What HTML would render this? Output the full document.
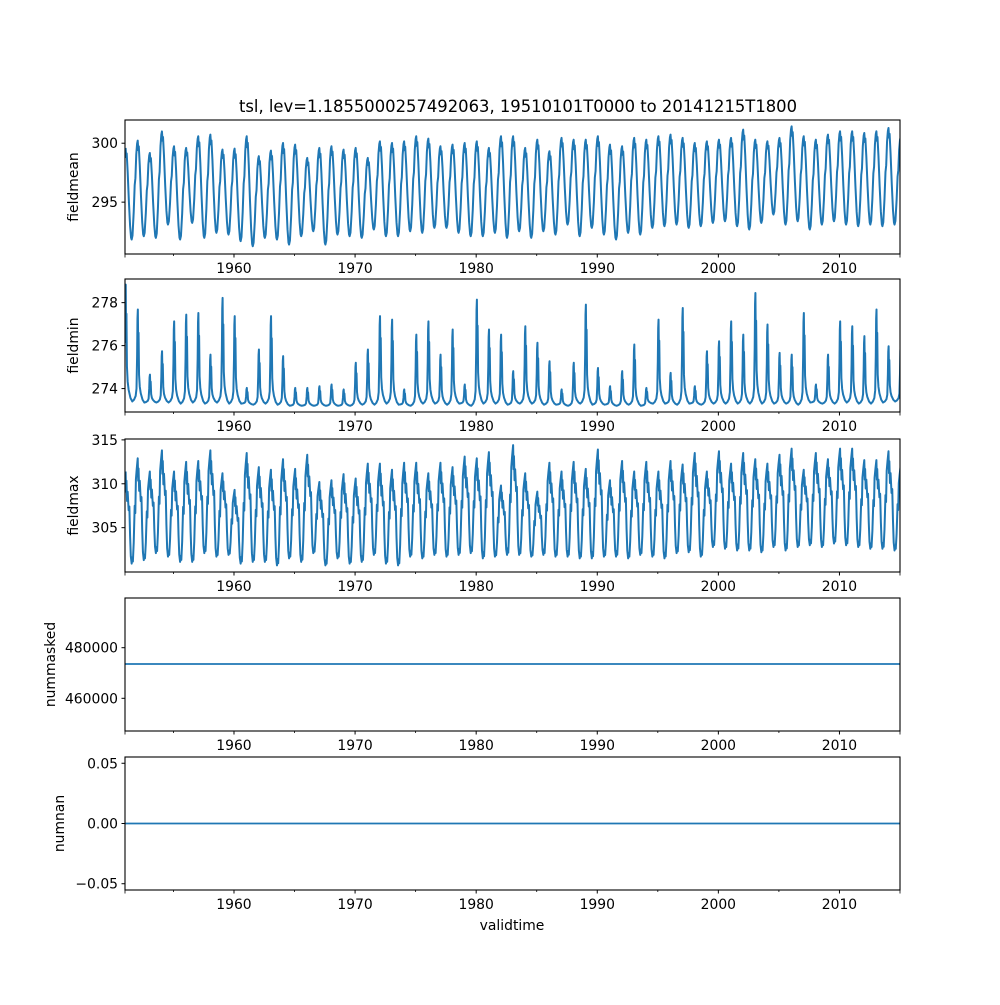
<!DOCTYPE html>
<html><head><meta charset="utf-8">
<style>
html,body{margin:0;padding:0;background:#fff;}
svg text{font-family:"DejaVu Sans","Liberation Sans",sans-serif;fill:#000;}
</style></head>
<body>
<svg id="chart" width="1000" height="1000" viewBox="0 0 1000 1000" xmlns="http://www.w3.org/2000/svg">
<rect width="1000" height="1000" fill="#fff"/>
<text x="518" y="112" font-size="16.4" text-anchor="middle">tsl, lev=1.1855000257492063, 19510101T0000 to 20141215T1800</text>
<text x="512" y="930" font-size="13.9" text-anchor="middle">validtime</text>
<g id="panels"></g>
</svg>
<script>
// ---- data (one value per year 1951..2015) ----
const meanPeaks = [299.6,300.22,299.17,301.0,299.74,299.6,300.59,300.73,299.46,299.54,300.59,298.9,299.37,300.02,299.88,298.75,299.6,299.74,299.46,299.6,298.75,300.16,300.02,300.16,300.59,300.39,299.74,299.88,300.02,300.16,299.6,300.59,
300.59,299.6,300.3,299.32,300.45,300.3,300.3,300.59,299.88,299.74,300.45,300.3,300.59,300.73,300.45,300.02,300.16,300.3,300.45,301.15,300.3,300.16,300.45,301.43,300.59,300.3,300.73,301.01,301.01,300.87,301.01,301.29,300.5];
const meanTroughs = [291.83,292.11,291.97,293.1,291.83,293.24,291.97,292.4,292.25,291.69,291.26,291.97,291.83,291.4,292.11,292.53,291.4,292.25,292.11,291.97,292.68,292.11,292.11,292.53,292.4,292.82,292.82,292.4,292.11,292.11,292.4,291.97,
292.53,291.97,292.53,292.25,293.1,292.11,292.82,292.25,291.83,292.4,292.25,292.82,292.96,293.1,292.82,292.96,293.24,293.38,292.96,292.68,293.24,293.95,293.1,293.38,292.68,293.1,293.38,293.1,292.96,293.1,292.96,293.1,293.0];
const minPeaks = [278.84,277.68,274.65,275.74,277.13,277.44,277.52,275.58,278.22,277.37,274.03,275.82,277.37,275.51,274.03,274.03,274.11,274.19,273.96,275.2,275.82,277.37,277.21,273.96,276.51,277.13,275.58,276.75,274.19,278.14,276.75,276.51,
274.81,276.9,276.13,275.27,273.96,275.2,277.91,274.96,274.11,274.81,276.05,274.03,277.21,274.73,277.75,274.11,275.74,276.2,277.13,276.51,278.45,276.98,275.66,275.58,277.52,274.19,275.58,277.13,276.9,276.44,277.68,275.97,276.0];
const minTroughs = [273.4,273.35,273.35,273.35,273.3,273.35,273.3,273.35,273.3,273.3,273.25,273.3,273.25,273.2,273.2,273.2,273.2,273.2,273.2,273.25,273.25,273.3,273.25,273.2,273.3,273.3,273.25,273.3,273.2,273.3,273.3,273.25,
273.3,273.3,273.25,273.25,273.2,273.3,273.25,273.25,273.2,273.25,273.2,273.3,273.3,273.25,273.3,273.25,273.3,273.3,273.3,273.3,273.3,273.3,273.3,273.25,273.35,273.3,273.3,273.35,273.3,273.3,273.35,273.4,273.4];
const maxPeaks = [311.4,312.9,311.4,313.8,311.4,312.5,312.6,313.8,311.2,309.3,313.5,311.9,311.6,312.8,311.7,313.3,310.2,310.4,311.1,310.6,312.3,312.3,311.6,312.4,312.4,311.2,312.4,311.9,313.1,312.9,313.6,309.8,
314.4,311.2,309.1,312.4,311.4,312.5,311.7,313.9,310.4,312.6,311.4,312.5,311.4,312.6,312.2,313.5,311.4,313.7,312.3,313.5,312.8,312.3,313.3,314.0,311.6,313.5,312.8,314.0,314.0,312.7,312.7,313.7,312.0];
const maxTroughs = [300.9,301.3,302.1,301.7,301.1,301.1,302.1,301.7,301.9,300.9,301.1,301.1,300.7,301.5,301.1,302.1,300.7,301.5,300.9,301.1,301.9,300.9,300.7,301.7,301.5,301.9,301.7,301.9,302.1,301.5,301.7,301.9,
301.9,301.7,301.9,301.7,301.7,301.5,301.5,301.7,301.7,301.5,301.9,301.7,301.5,302.1,302.2,301.7,302.8,302.6,302.4,302.4,302.2,302.8,302.4,302.8,303.0,302.8,303.2,303.0,302.8,302.6,302.6,302.4,302.4];
const maskedValue = [473560];
const nanValue = [0];
const xTickYears = [1960,1970,1980,1990,2000,2010];
const xMinorYears = [1951,1955,1965,1975,1985,1995,2005,2015];

const NS='http://www.w3.org/2000/svg';
const X0=125,X1=900,T0=1951,T1=2015;
function xs(t){return X0+(t-T0)/(T1-T0)*(X1-X0);}
const panelsG=document.getElementById('panels');
function el(tag,attrs,parent){const e=document.createElementNS(NS,tag);for(const k in attrs)e.setAttribute(k,attrs[k]);(parent||panelsG).appendChild(e);return e;}

const profMean=[[0.05,1],[0.1,0.9],[0.14,0.94],[0.22,0.74],[0.32,0.42],[0.42,0.15],[0.5,0.02],[0.55,0],[0.62,0.04],[0.72,0.28],[0.8,0.55],[0.86,0.62],[0.93,0.86],[1.0,0.97]];
const profMin=[[0.0,0.5],[0.03,0.9],[0.06,1],[0.09,0.6],[0.12,0.75],[0.16,0.3],[0.22,0.17],[0.3,0.1],[0.45,0.03],[0.6,0],[0.75,0.02],[0.88,0.06],[0.95,0.14]];
const profMax=[[0.05,1],[0.09,0.78],[0.12,0.9],[0.17,0.68],[0.22,0.78],[0.3,0.58],[0.36,0.62],[0.42,0.3],[0.48,0.08],[0.55,0],[0.6,0.06],[0.65,0.02],[0.72,0.2],[0.8,0.55],[0.85,0.48],[0.9,0.8],[0.97,0.9]];

function seriesPath(peaks,troughs,prof,ys,trPhase){
  let d='';
  for(let i=0;i<peaks.length;i++){
    for(const [ph,f] of prof){
      const t=T0+i+ph;
      const pk=(ph>trPhase && i+1<peaks.length)?peaks[i+1]:peaks[i];
      const v=troughs[i]+(pk-troughs[i])*f;
      d+=(d?'L':'M')+xs(t).toFixed(2)+','+ys(v).toFixed(2);
    }
  }
  return d;
}

const panels=[
 {name:'fieldmean',top:120,bot:254,lo:290.6,hi:301.97,ticks:[295,300],fmt:v=>String(v),label:'fieldmean',lx:78},
 {name:'fieldmin',top:279,bot:412,lo:272.91,hi:279.1,ticks:[274,276,278],fmt:v=>String(v),label:'fieldmin',lx:78},
 {name:'fieldmax',top:439,bot:572,lo:299.95,hi:315.1,ticks:[305,310,315],fmt:v=>String(v),label:'fieldmax',lx:78},
 {name:'nummasked',top:598,bot:731,lo:447080,hi:499640,ticks:[460000,480000],fmt:v=>String(v),label:'nummasked',lx:55},
 {name:'numnan',top:757,bot:890,lo:-0.0552,hi:0.0552,ticks:[-0.05,0,0.05],fmt:v=>(v<0?'\u2212':'')+Math.abs(v).toFixed(2),label:'numnan',lx:64}
];

panels.forEach((p,idx)=>{
  const g=el('g',{});
  
  
  const ys=v=>p.bot-(v-p.lo)/(p.hi-p.lo)*(p.bot-p.top);
  const cid='clip'+idx;
  const cp=el('clipPath',{id:cid},g);
  el('rect',{x:X0,y:p.top,width:X1-X0,height:p.bot-p.top},cp);
  let d;
  if(idx===0) d=seriesPath(meanPeaks,meanTroughs,profMean,ys,0.55);
  else if(idx===1) d=seriesPath(minPeaks,minTroughs,profMin,ys,0.6);
  else if(idx===2) d=seriesPath(maxPeaks,maxTroughs,profMax,ys,0.55);
  else if(idx===3) d='M'+xs(T0)+','+ys(maskedValue[0])+'L'+xs(T1)+','+ys(maskedValue[0]);
  else d='M'+xs(T0)+','+ys(nanValue[0])+'L'+xs(T1)+','+ys(nanValue[0]);
  const line=el('path',{d:d,fill:'none',stroke:'#1f77b4','stroke-width':idx<3?2:1.8,'stroke-linejoin':'round','clip-path':'url(#'+cid+')'},g);
  
  
  const frame=el('rect',{x:X0,y:p.top,width:X1-X0,height:p.bot-p.top,fill:'none',stroke:'#000','stroke-width':1.1},g);
  
  
  p.ticks.forEach(v=>{
    const y=ys(v);
    el('line',{x1:X0-3.5,x2:X0,y1:y,y2:y,stroke:'#000','stroke-width':1},g);
    const tx=el('text',{x:X0-7,y:y+5,'font-size':13.9,'text-anchor':'end'},g);
    tx.textContent=p.fmt(v);
    
    
  });
  xTickYears.forEach(yr=>{
    const x=xs(yr);
    el('line',{x1:x,x2:x,y1:p.bot,y2:p.bot+3.5,stroke:'#000','stroke-width':1},g);
    const tx=el('text',{x:x,y:p.bot+19,'font-size':13.9,'text-anchor':'middle'},g);
    tx.textContent=String(yr);
    
    
  });
  xMinorYears.forEach(yr=>{
    const x=xs(yr);
    const len=(yr===1951||yr===2015)?3.5:2;
    el('line',{x1:x,x2:x,y1:p.bot,y2:p.bot+len,stroke:'#000','stroke-width':0.8},g);
  });
  const cy=(p.top+p.bot)/2;
  const lab=el('text',{x:p.lx,y:cy,'font-size':13.9,'text-anchor':'middle',transform:'rotate(-90 '+p.lx+' '+cy+')'},g);
  lab.textContent=p.label;
  
  
});
</script>
</body></html>
